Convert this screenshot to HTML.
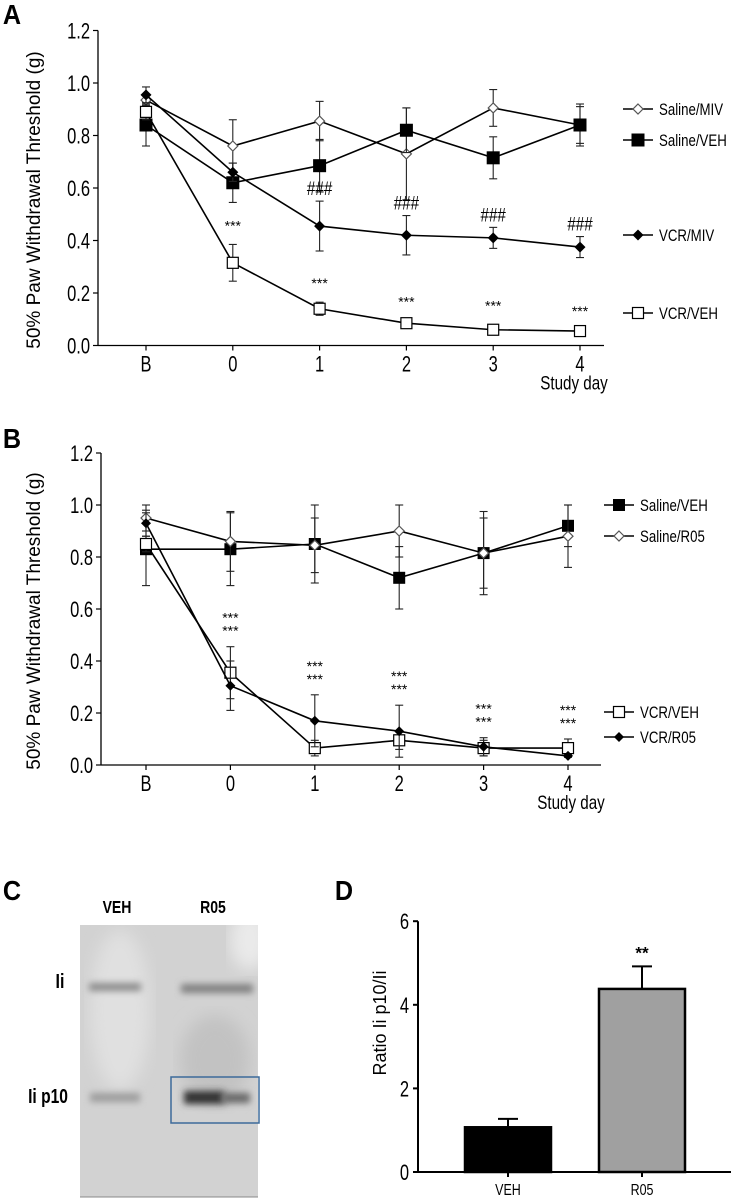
<!DOCTYPE html>
<html><head><meta charset="utf-8"><style>
html,body{margin:0;padding:0;background:#fff}
svg{display:block;font-family:"Liberation Sans",sans-serif}
</style></head><body>
<svg id="fig" width="731" height="1199" viewBox="0 0 731 1199" xmlns="http://www.w3.org/2000/svg">
<defs>
<filter id="blur3" x="-20%" y="-100%" width="140%" height="300%"><feGaussianBlur stdDeviation="3.5"/></filter>
<filter id="blur8"><feGaussianBlur stdDeviation="8"/></filter>
<clipPath id="gelclip"><rect x="80" y="925" width="178" height="272"/></clipPath>
</defs>
<g id="root"></g>
</svg>
<script>
// ---------- Panel A data ----------
const daysA = ["B","0","1","2","3","4"];
const aSalineMIV = [0.935,0.76,0.855,0.73,0.905,0.84];
const aSalineMIVErr = [0.02,0.10,0.075,0.175,0.07,0.07];
const aSalineVEH = [0.84,0.62,0.685,0.82,0.715,0.84];
const aSalineVEHErr = [0.08,0.075,0.10,0.085,0.08,0.08];
const aVCRMIV = [0.955,0.66,0.455,0.42,0.41,0.375];
const aVCRMIVErr = [0.03,0.035,0.095,0.075,0.04,0.04];
const aVCRVEH = [0.89,0.315,0.14,0.085,0.06,0.055];
const aVCRVEHErr = [0.03,0.07,0.025,0.01,0.02,0.005];
const aStars = ["","***","***","***","***","***"];
const aHash = ["","","###","###","###","###"];
const yTicks = [0,0.2,0.4,0.6,0.8,1.0,1.2];
// ---------- Panel B data ----------
const bSalineVEH = [0.83,0.83,0.85,0.72,0.815,0.92];
const bSalineVEHErr = [0.14,0.14,0.15,0.12,0.16,0.08];
const bSalineR05 = [0.95,0.86,0.845,0.90,0.815,0.88];
const bSalineR05Err = [0.05,0.115,0.105,0.10,0.135,0.12];
const bVCRVEH = [0.85,0.355,0.065,0.095,0.065,0.065];
const bVCRVEHErr = [0.03,0.10,0.03,0.035,0.03,0.035];
const bVCRR05 = [0.93,0.305,0.17,0.13,0.07,0.035];
const bVCRR05Err = [0.05,0.095,0.10,0.10,0.035,0.005];
const bStars = ["","***","***","***","***","***"];
// ---------- Panel D data ----------
const dCats = ["VEH","R05"];
const dVals = [1.07,4.38];
const dErr = [0.2,0.54];
const dTicks = [0,2,4,6];

const NS="http://www.w3.org/2000/svg";
const root=document.getElementById('root');
function el(tag,attrs,parent){const e=document.createElementNS(NS,tag);for(const k in attrs)e.setAttribute(k,attrs[k]);(parent||root).appendChild(e);return e;}
function txt(x,y,s,size,opts,parent){opts=opts||{};const g=el('g',{transform:`translate(${x},${y}) scale(${opts.sx||0.82},1)`+(opts.rot?` rotate(${opts.rot})`:'')},parent);const t=el('text',{x:0,y:0,'font-size':size,'text-anchor':opts.anchor||'middle','font-weight':opts.bold?'bold':'normal',fill:opts.fill||'#000'},g);t.textContent=s;return g;}

function marker(g,type,x,y,s){
  if(type==='fsq'){return el('rect',{x:x-s,y:y-s,width:2*s,height:2*s,fill:'#000'},g);}
  if(type==='osq'){return el('rect',{x:x-s+0.5,y:y-s+0.5,width:2*s-1,height:2*s-1,fill:'#fff',stroke:'#000','stroke-width':1.2},g);}
  if(type==='fdia'){return el('polygon',{points:`${x},${y-s} ${x+s},${y} ${x},${y+s} ${x-s},${y}`,fill:'#000'},g);}
  if(type==='odia'){return el('polygon',{points:`${x},${y-s} ${x+s},${y} ${x},${y+s} ${x-s},${y}`,fill:'#fff',stroke:'#555','stroke-width':1.2},g);}
}

function linePanel(cfg){
  const P=el('g',{});
  
  
  const X=i=>cfg.x0+i*cfg.dx;
  const Y=v=>cfg.yZero-v*cfg.ppu;
  const ax=el('g',{},P);
  
  
  el('line',{x1:cfg.axX,y1:Y(1.2),x2:cfg.axX,y2:cfg.yZero,stroke:'#000','stroke-width':1.3},ax);
  yTicks.forEach(t=>{
    el('line',{x1:cfg.axX-5,y1:Y(t),x2:cfg.axX,y2:Y(t),stroke:'#000','stroke-width':1.2},ax);
    const lb=txt(cfg.axX-8,Y(t)+8,t.toFixed(1),22,{anchor:'end',sx:0.75},ax);
    
    
  });
  const xa=el('g',{},P);
  
  
  el('line',{x1:cfg.axX,y1:cfg.yZero,x2:cfg.axEnd,y2:cfg.yZero,stroke:'#000','stroke-width':1.3},xa);
  daysA.forEach((d,i)=>{
    el('line',{x1:X(i),y1:cfg.yZero,x2:X(i),y2:cfg.yZero+5,stroke:'#000','stroke-width':1.2},xa);
    const lb=txt(X(i),cfg.yZero+26,d,22,{sx:0.75},xa);
    
    
  });
  const xt=txt(cfg.axEnd-30,cfg.yZero+44,'Study day',19,{sx:0.8},P);
  
  
  const yt=txt(40,(Y(1.2)+cfg.yZero)/2+12,'50% Paw Withdrawal Threshold (g)',19,{rot:-90,sx:1},P);
  
  
  const pl=txt(12,cfg.labelY,cfg.label,28,{bold:true,sx:0.9},P);
  
  
  cfg.series.forEach(s=>{
    const g=el('g',{},P);
    
    
    s.vals.forEach((v,i)=>{
      const e=s.err[i];
      el('line',{x1:X(i),y1:Y(v+e),x2:X(i),y2:Y(v-e),stroke:'#222','stroke-width':1.1},g);
      el('line',{x1:X(i)-4,y1:Y(v+e),x2:X(i)+4,y2:Y(v+e),stroke:'#222','stroke-width':1.1},g);
      el('line',{x1:X(i)-4,y1:Y(v-e),x2:X(i)+4,y2:Y(v-e),stroke:'#222','stroke-width':1.1},g);
    });
    el('polyline',{points:s.vals.map((v,i)=>X(i)+','+Y(v)).join(' '),fill:'none',stroke:'#000','stroke-width':1.6},g);
    s.vals.forEach((v,i)=>{const m=marker(g,s.type,X(i),Y(v),s.size);
      
      });
    const lg=el('g',{},P);
    
    
    el('line',{x1:cfg.legX,y1:s.legY,x2:cfg.legX+30,y2:s.legY,stroke:'#000','stroke-width':1.6},lg);
    marker(lg,s.type,cfg.legX+15,s.legY,s.size);
    txt(cfg.legX+36,s.legY+6,s.name,17,{anchor:'start',sx:0.78},lg);
  });
  return {P,X,Y};
}

const A=linePanel({name:'panel-a-chart',label:'A',labelY:24,x0:146,dx:86.8,yZero:345.5,ppu:262.5,axX:98,axEnd:604,legX:623,
  series:[
    {name:'Saline/MIV',vals:aSalineMIV,err:aSalineMIVErr,type:'odia',size:5,legY:109},
    {name:'Saline/VEH',vals:aSalineVEH,err:aSalineVEHErr,type:'fsq',size:6.5,legY:140},
    {name:'VCR/MIV',vals:aVCRMIV,err:aVCRMIVErr,type:'fdia',size:5.5,legY:235},
    {name:'VCR/VEH',vals:aVCRVEH,err:aVCRVEHErr,type:'osq',size:6,legY:313}
  ]});
aStars.forEach((s,i)=>{if(!s)return;const t=txt(A.X(i),A.Y(aVCRVEH[i]+aVCRVEHErr[i])-14,s,14,{sx:1},A.P);
  
  });
aHash.forEach((s,i)=>{if(!s)return;const t=txt(A.X(i)+(i===1?14:0),A.Y(aVCRMIV[i]+aVCRMIVErr[i])-6,s,19,{sx:0.8},A.P);
  
  });

const B=linePanel({name:'panel-b-chart',label:'B',labelY:448,x0:146,dx:84.4,yZero:765,ppu:260,axX:101,axEnd:601,legX:604,
  series:[
    {name:'Saline/VEH',vals:bSalineVEH,err:bSalineVEHErr,type:'fsq',size:6,legY:505},
    {name:'Saline/R05',vals:bSalineR05,err:bSalineR05Err,type:'odia',size:5,legY:536},
    {name:'VCR/VEH',vals:bVCRVEH,err:bVCRVEHErr,type:'osq',size:6,legY:712},
    {name:'VCR/R05',vals:bVCRR05,err:bVCRR05Err,type:'fdia',size:5,legY:737}
  ]});
bStars.forEach((s,i)=>{if(!s)return;
  const top=Math.max(bVCRVEH[i]+bVCRVEHErr[i],bVCRR05[i]+bVCRR05Err[i]);
  const t1=txt(B.X(i),B.Y(top)-11,s,14,{sx:1},B.P);
  
  
  const t2=txt(B.X(i),B.Y(top)-24,s,14,{sx:1},B.P);
  
  });

// Panel C - gel
const C=el('g',{});


const cl=txt(12,900,'C',28,{bold:true,sx:0.9},C);


const lv=txt(117,913,'VEH',18,{bold:true,sx:0.78},C);


const lr=txt(213,913,'R05',18,{bold:true,sx:0.78},C);


const li=txt(60,988,'Ii',20,{bold:true,sx:0.8},C);


const lp=txt(48,1103,'Ii p10',20,{bold:true,sx:0.78},C);


const gel=el('g',{'clip-path':'url(#gelclip)'},C);


el('rect',{x:80,y:925,width:178,height:272,fill:'#d2d2d2'},gel);
el('ellipse',{cx:120,cy:1010,rx:30,ry:80,fill:'#e0e0e0',filter:'url(#blur8)'},gel);
el('ellipse',{cx:250,cy:940,rx:20,ry:30,fill:'#eaeaea',filter:'url(#blur8)'},gel);
el('ellipse',{cx:215,cy:1060,rx:35,ry:45,fill:'#c2c2c2',filter:'url(#blur8)'},gel);
el('rect',{x:89,y:983,width:52,height:8,fill:'#8a8a8a',filter:'url(#blur3)'},gel);
el('rect',{x:181,y:984,width:72,height:9,fill:'#808080',filter:'url(#blur3)'},gel);
el('rect',{x:90,y:1093,width:50,height:9,fill:'#9c9c9c',filter:'url(#blur3)'},gel);
el('rect',{x:184,y:1091,width:40,height:13,fill:'#333',filter:'url(#blur3)'},gel);
el('rect',{x:222,y:1093,width:28,height:10,fill:'#686868',filter:'url(#blur3)'},gel);
el('rect',{x:171,y:1077,width:88,height:46,fill:'none',stroke:'#3c6a9a','stroke-width':1.5},C);
el('line',{x1:80,y1:1197,x2:258,y2:1197,stroke:'#888','stroke-width':1},C);

// Panel D
const D=el('g',{});


const dX0=418,dY0=1172,dPPU=41.8;
const DY=v=>dY0-v*dPPU;
const dBand=[508,642];
const dw=txt(344,900,'D',28,{bold:true,sx:0.9},D);


el('line',{x1:dX0,y1:DY(6),x2:dX0,y2:dY0,stroke:'#000','stroke-width':2},D);
el('line',{x1:dX0,y1:dY0,x2:731,y2:dY0,stroke:'#000','stroke-width':2},D);
dTicks.forEach(t=>{
  el('line',{x1:dX0-5,y1:DY(t),x2:dX0,y2:DY(t),stroke:'#000','stroke-width':2},D);
  const lb=txt(dX0-9,DY(t)+8,String(t),22,{anchor:'end',sx:0.75},D);
  
  
});
const dyt=txt(386,1023,'Ratio Ii p10/Ii',18,{rot:-90,sx:1},D);


dCats.forEach((c,i)=>{
  const cx=dBand[i];
  const b=el('rect',{x:cx-43,y:DY(dVals[i]),width:86,height:dY0-DY(dVals[i]),fill:i===0?'#000':'#a0a0a0',stroke:'#000','stroke-width':2.5},D);
  
  
  el('line',{x1:cx,y1:DY(dVals[i]),x2:cx,y2:DY(dVals[i]+dErr[i]),stroke:'#000','stroke-width':2},D);
  el('line',{x1:cx-10,y1:DY(dVals[i]+dErr[i]),x2:cx+10,y2:DY(dVals[i]+dErr[i]),stroke:'#000','stroke-width':2},D);
  el('line',{x1:cx,y1:dY0,x2:cx,y2:dY0+5,stroke:'#000','stroke-width':2},D);
  const lb=txt(cx,1195,c,16,{sx:0.78},D);
  
  
});
const ds=txt(dBand[1],DY(dVals[1]+dErr[1])-8,'**',17,{bold:true,sx:1},D);


</script>
</body></html>
